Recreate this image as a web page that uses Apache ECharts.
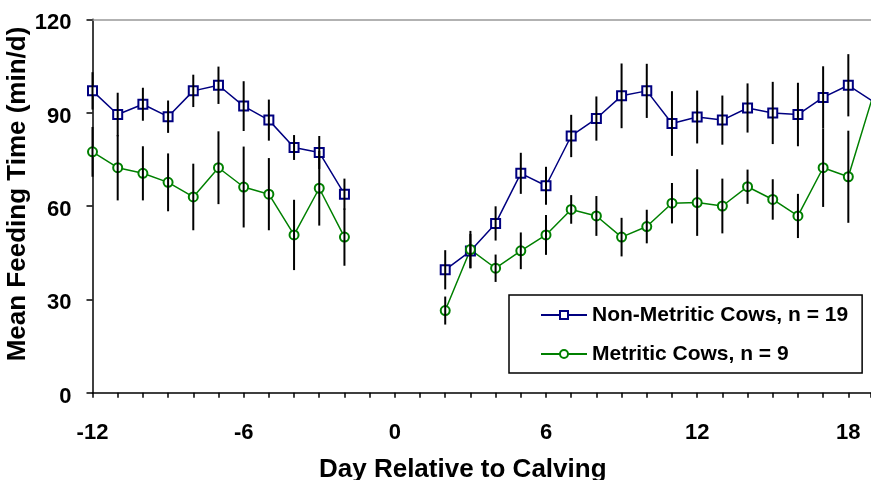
<!DOCTYPE html>
<html>
<head>
<meta charset="utf-8">
<script src="https://cdn.jsdelivr.net/npm/echarts@6/dist/echarts.min.js"></script>
<style>
  html, body { margin: 0; padding: 0; background: #fff; }
  #chart { width: 871px; height: 480px; }
</style>
</head>
<body>
<div id="chart"></div>
<script>
// days -12 .. 19, no data for -1, 0, 1
var days = [-12, -11, -10, -9, -8, -7, -6, -5, -4, -3, -2, -1, 0, 1,
  2, 3, 4, 5, 6, 7, 8, 9, 10, 11, 12, 13, 14, 15, 16, 17, 18, 19];

var nonMetritic = [97.0, 89.4, 92.7, 88.7, 97.0, 98.8, 92.1, 87.6, 78.8, 77.2, 63.8, null, null, null,
  39.5, 45.5, 54.4, 70.5, 66.5, 82.5, 88.1, 95.4, 97.0, 86.5, 88.6, 87.6, 91.5, 89.9, 89.4, 94.9, 98.8, 93.5];
var nonMetriticErr = [6, 7, 5.3, 5.2, 5.2, 6, 8, 6.6, 4, 5.3, 5, null, null, null,
  6.3, 5.5, 5.5, 6.6, 6.1, 6.8, 7.1, 10.4, 8.7, 10.4, 8.5, 7.9, 7.9, 10, 10.2, 10, 10, null];

var metritic = [77.4, 72.3, 70.5, 67.6, 62.9, 72.3, 66.1, 63.8, 50.7, 65.7, 50.0, null, null, null,
  26.4, 46.0, 40.0, 45.6, 50.7, 58.9, 56.8, 50.0, 53.4, 60.9, 61.1, 60.0, 66.2, 62.1, 56.8, 72.3, 69.4, 96];
var metriticErr = [8, 10.5, 8.7, 9.3, 10.7, 11.7, 13, 11.6, 11.3, 12, 9.2, null, null, null,
  4.5, 6, 4.4, 5.9, 6.4, 4.6, 6.4, 6.2, 5.4, 6.5, 10.7, 8.8, 5.5, 6.5, 7.1, 12.6, 14.8, null];

var FONT = 'Arial, "Liberation Sans", sans-serif';

function pairs(vals) {
  return days.map(function (d, i) { return [d, vals[i]]; });
}
function errData(vals, errs) {
  var out = [];
  days.forEach(function (d, i) {
    if (vals[i] != null && errs[i] != null) out.push([d, vals[i] - errs[i], vals[i] + errs[i]]);
  });
  return out;
}
/*误差线*/
function errItem(params, api) {
  var p1 = api.coord([api.value(0), api.value(1)]);
  var p2 = api.coord([api.value(0), api.value(2)]);
  return {
    type: 'line',
    shape: { x1: p1[0], y1: p1[1], x2: p2[0], y2: p2[1] },
    style: { stroke: '#000', lineWidth: 2 }
  };
}

var chart = echarts.init(document.getElementById('chart'), null, { renderer: 'canvas' });

var option = {
  animation: false,
  backgroundColor: '#fff',
  grid: { left: 92.5, right: 0, top: 19.3, bottom: 87.3, containLabel: false, outerBoundsMode: 'none' },
  legend: {
    orient: 'vertical',
    left: 509,
    top: 295,
    data: ['Non-Metritic Cows, n = 19', 'Metritic Cows, n = 9'],
    itemWidth: 46,
    itemHeight: 10,
    itemGap: 17,
    padding: [9, 14, 8, 31],
    borderColor: '#000',
    borderWidth: 1.5,
    backgroundColor: '#fff',
    textStyle: { fontFamily: FONT, fontWeight: 'bold', fontSize: 21, color: '#000', lineHeight: 22 }
  },
  xAxis: [{
    type: 'value',
    min: -12,
    max: 18.9,
    interval: 1,
    name: 'Day Relative to Calving',
    nameLocation: 'middle',
    nameGap: 64,
    nameMoveOverlap: false,
    nameTextStyle: { fontFamily: FONT, fontWeight: 'bold', fontSize: 26, color: '#000', padding: [0, 38, 0, 0] },
    axisLine: { show: true, onZero: false, lineStyle: { color: '#000', width: 1.5 } },
    axisTick: { show: true, inside: false, length: 5, lineStyle: { color: '#000', width: 1.5 } },
    axisLabel: {
      margin: 29,
      fontFamily: FONT, fontWeight: 'bold', fontSize: 22, color: '#000',
      formatter: function (v) { return v % 6 === 0 ? String(v) : ''; }
    },
    splitLine: { show: false }
  }, {
    type: 'value',
    position: 'top',
    min: -12,
    max: 18.9,
    axisLine: { show: true, onZero: false, lineStyle: { color: '#999', width: 1.5 } },
    axisTick: { show: false },
    axisLabel: { show: false },
    splitLine: { show: false }
  }],
  yAxis: {
    type: 'value',
    min: 0,
    max: 120,
    interval: 30,
    name: 'Mean Feeding Time (min/d)',
    nameLocation: 'middle',
    nameGap: 62,
    nameMoveOverlap: false,
    nameTextStyle: { fontFamily: FONT, fontWeight: 'bold', fontSize: 26, color: '#000', padding: [0, 0, 0, 24] },
    axisLine: { show: true, onZero: false, lineStyle: { color: '#000', width: 1.5 } },
    axisTick: { show: true, inside: false, length: 6, lineStyle: { color: '#000', width: 1.5 } },
    axisLabel: {
      margin: 21, verticalAlign: 'top', lineHeight: 8,
      fontFamily: FONT, fontWeight: 'bold', fontSize: 22, color: '#000'
    },
    splitLine: { show: false }
  },
  series: [{
    name: 'Non-Metritic Cows, n = 19',
    type: 'line',
    data: pairs(nonMetritic),
    connectNulls: false,
    symbol: 'emptyRect',
    symbolSize: 9,
    color: '#000080',
    lineStyle: { color: '#000080', width: 1.5 },
    itemStyle: { color: '#000080', borderWidth: 1.5 },
    z: 3
  }, {
    name: 'Metritic Cows, n = 9',
    type: 'line',
    data: pairs(metritic),
    connectNulls: false,
    symbol: 'emptyCircle',
    symbolSize: 9,
    color: '#008000',
    lineStyle: { color: '#008000', width: 1.5 },
    itemStyle: { color: '#008000', borderWidth: 1.5 },
    z: 3
  }, {
    name: 'errNon',
    type: 'custom',
    renderItem: errItem,
    data: errData(nonMetritic, nonMetriticErr),
    encode: { x: 0, y: [1, 2] },
    z: 4
  }, {
    name: 'errMet',
    type: 'custom',
    renderItem: errItem,
    data: errData(metritic, metriticErr),
    encode: { x: 0, y: [1, 2] },
    z: 4
  }]
};
chart.setOption(option);
</script>
</body>
</html>
